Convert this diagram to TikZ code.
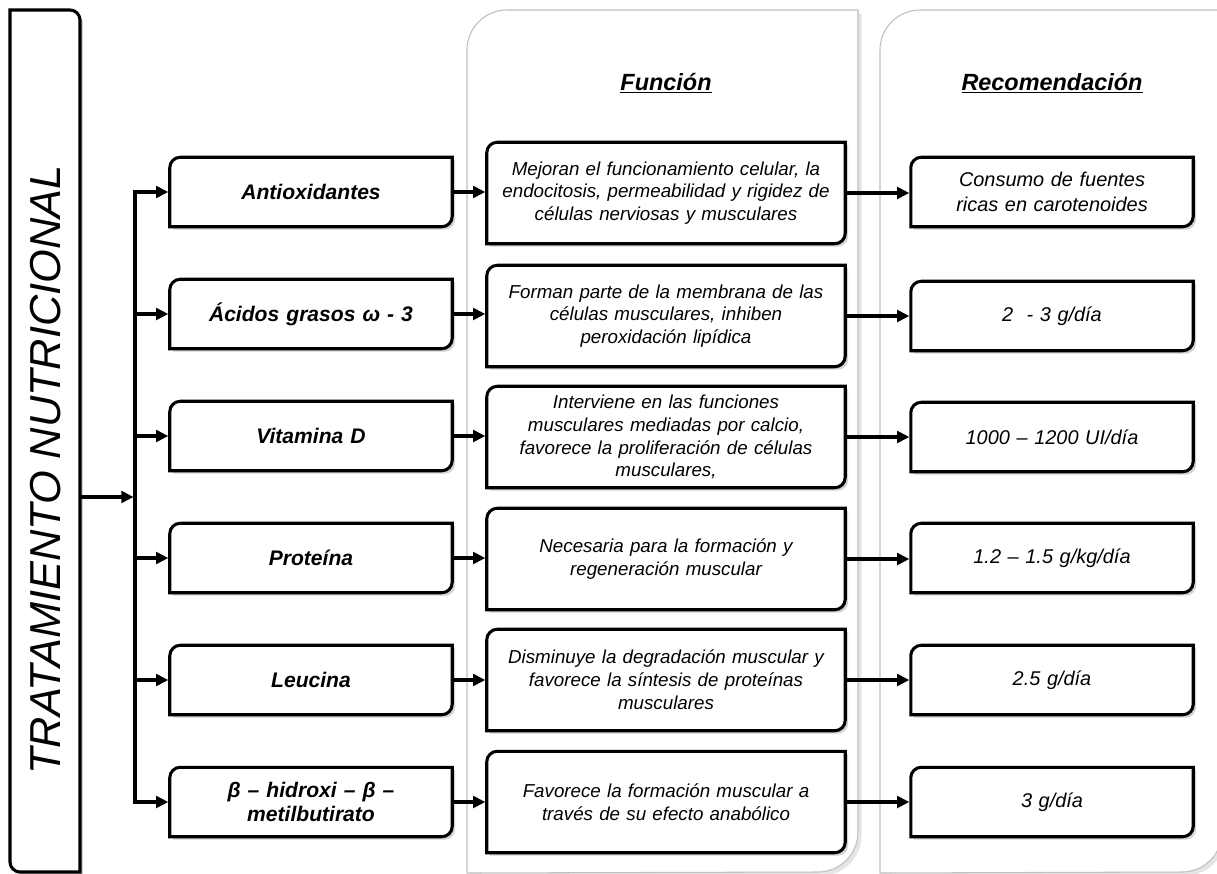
\documentclass[tikz,border=0pt]{standalone}
\usepackage{fontspec}
\setmainfont{Liberation Sans}
\usetikzlibrary{arrows.meta,shadows,calc}

\pgfdeclarelayer{fondo}
\pgfdeclarelayer{marcos}
\pgfsetlayers{fondo,marcos,main}

% marco con esquinas redondeadas arriba-izquierda y abajo-derecha
\newcommand{\esquinas}[1]{%
  \draw[marco] ([yshift=-9pt]#1.north west) arc[start angle=180,end angle=90,radius=9pt]
    -- (#1.north east) -- ([yshift=9pt]#1.south east) arc[start angle=0,end angle=-90,radius=9pt]
    -- (#1.south west) -- cycle;}

\begin{document}
\begin{tikzpicture}[x=0.03cm, y=0.03cm,
    flecha/.style={line width=2.8pt, shorten >=1.2pt, -{Triangle[length=10.5pt,width=10pt]}},
    marco/.style={line width=2.6pt, fill=white,
      drop shadow={shadow xshift=2.5pt, shadow yshift=-2.5pt, fill=black!35}},
    panel/.style={draw=black!25, line width=0.9pt, fill=white,
      drop shadow={shadow xshift=3pt, shadow yshift=-3pt, fill=black!20}},
    nutriente/.style={minimum width=8.46cm, minimum height=2.07cm, inner sep=0pt,
      text width=8cm, align=center, font=\fontsize{18}{21}\selectfont\bfseries\itshape},
    funcion/.style={minimum width=10.74cm, minimum height=3.03cm, inner sep=0pt,
      text width=10.5cm, align=center, font=\fontsize{16}{19.5}\selectfont\itshape},
    dosis/.style={minimum width=8.46cm, minimum height=2.07cm, inner sep=0pt,
      text width=8cm, align=center, font=\fontsize{17}{21}\selectfont\itshape},
    encabezado/.style={font=\fontsize{20}{24}\selectfont\bfseries\itshape}]

    \useasboundingbox (0,0) rectangle (1217,-873);

    % paneles de fondo
    \begin{pgfonlayer}{fondo}
    \draw[panel] (467,-873) -- (467,-50) arc[start angle=180,end angle=90,radius=1.2cm]
               -- (858,-10) -- (858,-832) arc[start angle=0,end angle=-90,radius=1.2cm] -- cycle;
    \draw[panel] (880,-873) -- (880,-50) arc[start angle=180,end angle=90,radius=1.2cm]
               -- (1222,-10) -- (1222,-832) arc[start angle=0,end angle=-90,radius=1.2cm] -- cycle;
    \end{pgfonlayer}

    % caja vertical del titulo
    \draw[marco] (10,-10) -- (70,-10) arc[start angle=90,end angle=0,radius=0.3cm]
               -- (80,-872) -- (20,-872) arc[start angle=-90,end angle=-180,radius=0.3cm] -- cycle;
    \node[rotate=90, font=\fontsize{37}{42}\selectfont\itshape] (titulo) at (46,-470) {TRATAMIENTO NUTRICIONAL};

    \coordinate (salida) at (80,-497);
    \coordinate (hub) at (135,-497);

    % encabezados
    \node[encabezado] (hfun) at (666,-83) {\underline{Función}};
    \node[encabezado] (hrec) at (1052,-83) {\underline{Recomendación}};

    % nutrientes
    \node[nutriente] (n1) at (311,-192) {Antioxidantes};
    \node[nutriente] (n2) at (311,-314) {Ácidos grasos ω - 3};
    \node[nutriente] (n3) at (311,-436) {Vitamina D};
    \node[nutriente] (n4) at (311,-558) {Proteína};
    \node[nutriente] (n5) at (311,-680) {Leucina};
    \node[nutriente] (n6) at (311,-802) {β – hidroxi – β –\\ metilbutirato};

    % funciones
    \node[funcion] (f1) at (666,-193) {Mejoran el funcionamiento celular, la\\ endocitosis, permeabilidad y rigidez de\\ células nerviosas y musculares};
    \node[funcion] (f2) at (666,-316) {Forman parte de la membrana de las\\ células musculares, inhiben\\ peroxidación lipídica};
    \node[funcion] (f3) at (666,-437) {Interviene en las funciones\\ musculares mediadas por calcio,\\ favorece la proliferación de células\\ musculares,};
    \node[funcion] (f4) at (666,-559) {Necesaria para la formación y\\ regeneración muscular};
    \node[funcion] (f5) at (666,-680) {Disminuye la degradación muscular y\\ favorece la síntesis de proteínas\\ musculares};
    \node[funcion] (f6) at (666,-802) {Favorece la formación muscular a\\ través de su efecto anabólico};

    % recomendaciones
    \node[dosis] (d1) at (1052,-192) {Consumo de fuentes\\ ricas en carotenoides};
    \node[dosis] (d2) at (1052,-316) {2\ \ - 3 g/día};
    \node[dosis] (d3) at (1052,-437) {1000 – 1200 UI/día};
    \node[dosis] (d4) at (1052,-558) {1.2 – 1.5 g/kg/día};
    \node[dosis] (d5) at (1052,-680) {2.5 g/día};
    \node[dosis] (d6) at (1052,-802) {3 g/día};

    \begin{pgfonlayer}{marcos}
    \foreach \c in {n1,n2,n3,n4,n5,n6,f1,f2,f3,f4,f5,f6,d1,d2,d3,d4,d5,d6}
        \esquinas{\c};
    \end{pgfonlayer}

    % conectores
    \draw[flecha] (salida) -- (hub);
    \foreach \i in {1,...,6} {
        \draw[flecha] (hub) |- (n\i.west);
        \draw[flecha] (n\i.east) -- (n\i.east -| f\i.west);
        \draw[flecha] (f\i.east) -- (f\i.east -| d\i.west);
    }
\end{tikzpicture}
\end{document}
